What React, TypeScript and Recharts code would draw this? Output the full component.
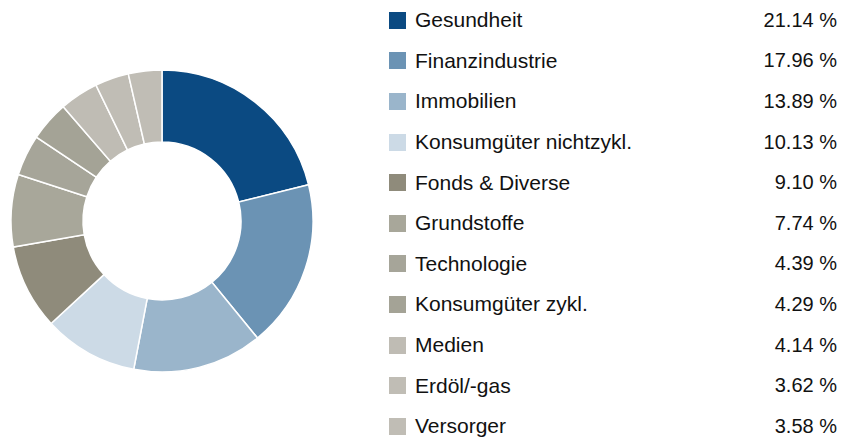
import { PieChart, Pie, Cell } from 'recharts'

const sectors = [
  'Gesundheit',
  'Finanzindustrie',
  'Immobilien',
  'Konsumgüter nichtzykl.',
  'Fonds & Diverse',
  'Grundstoffe',
  'Technologie',
  'Konsumgüter zykl.',
  'Medien',
  'Erdöl/-gas',
  'Versorger',
]

const shares = [21.14, 17.96, 13.89, 10.13, 9.1, 7.74, 4.39, 4.29, 4.14, 3.62, 3.58]

const colors = [
  '#0B4A82',
  '#6B93B4',
  '#9AB5CB',
  '#CCDAE6',
  '#8F8B7B',
  '#A8A79A',
  '#A6A599',
  '#A4A396',
  '#BFBCB4',
  '#C0BDB5',
  '#C0BDB5',
]

const data = sectors.map((name, i) => ({ name, value: shares[i] }))

const fmt = (v: number) => v.toFixed(2) + ' %'

function SectorLegend() {
  return (
    <div
      style={{
        position: 'absolute',
        left: 388,
        top: 0,
        width: 452,
        fontFamily: 'Liberation Sans, Arial, sans-serif',
        fontSize: 20,
        color: '#111',
      }}
    >
      {data.map((d, i) => (
        <div
          key={d.name}
          style={{ height: 40.6, display: 'flex', alignItems: 'center', position: 'relative' }}
        >
          <span
            style={{ width: 17, height: 17, background: colors[i], display: 'inline-block', marginLeft: 1 }}
          />
          <span style={{ marginLeft: 9, fontSize: 21 }}>{d.name}</span>
          <span style={{ position: 'absolute', right: 3 }}>{fmt(d.value)}</span>
        </div>
      ))}
    </div>
  )
}

export default function App() {
  return (
    <div
      style={{
        position: 'fixed',
        left: 0,
        top: 0,
        width: 847,
        height: 437,
        background: '#fff',
        overflow: 'hidden',
      }}
    >
      <PieChart width={330} height={437} margin={{ top: 0, right: 0, bottom: 0, left: 0 }}>
        <Pie
          data={data}
          dataKey="value"
          nameKey="name"
          cx={162}
          cy={221}
          innerRadius={79}
          outerRadius={151}
          startAngle={90}
          endAngle={-270}
          stroke="#fff"
          strokeWidth={1.5}
          isAnimationActive={false}
        >
          {data.map((d, i) => (
            <Cell key={d.name} fill={colors[i]} />
          ))}
        </Pie>
      </PieChart>
      <SectorLegend />
    </div>
  )
}
